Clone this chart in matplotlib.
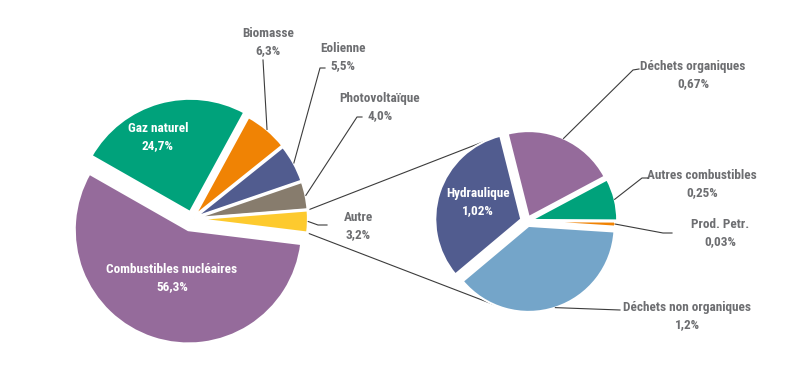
import matplotlib
matplotlib.use("Agg")
import matplotlib.pyplot as plt
from matplotlib import font_manager
import numpy as np

# ---------------- data ----------------
main_labels = ["Combustibles nucléaires", "Gaz naturel", "Biomasse", "Eolienne",
               "Photovoltaïque", "Autre"]
main_values = [56.3, 24.7, 6.3, 5.5, 4.0, 3.2]
main_colors = ["#956b9b", "#00a27b", "#f08304", "#515c8f", "#877c6d", "#fdca2e"]

sub_labels = ["Hydraulique", "Déchets organiques", "Autres combustibles",
              "Prod. Petr.", "Déchets non organiques"]
sub_values = [1.02, 0.67, 0.25, 0.03, 1.2]
sub_colors = ["#515c8f", "#956b9b", "#00a27b", "#f08304", "#74a5c9"]

# ---------------- font ----------------
available = {f.name for f in font_manager.fontManager.ttflist}
candidates = ["Roboto Condensed", "Liberation Sans Narrow", "DejaVu Sans Condensed",
              "Open Sans Condensed", "Roboto", "DejaVu Sans"]
FONT = next(c for c in candidates if c in available)
plt.rcParams["font.family"] = [FONT, "DejaVu Sans"]

W, H = 800, 373
fig = plt.figure(figsize=(W / 100, H / 100), dpi=100)
ax = fig.add_axes([0, 0, 1, 1])


def Y(py):
    return H - py


def fmt(v):
    return str(v).replace(".", ",") + "%"


# ---------------- main pie ----------------
R1 = 114
main_explode = [0.10, 0.06, 0.025, 0.02, 0.02, 0.02]
wm, _ = ax.pie(main_values, colors=main_colors, startangle=-7, counterclock=False,
               center=(192, Y(219)), radius=R1, explode=[e * R1 for e in main_explode],
               wedgeprops=dict(edgecolor="white", linewidth=2), frame=True)

# ---------------- sub pie ----------------
R2 = 86
sub_explode = [0.07, 0.05, 0.05, 0.03, 0.06]
ws, _ = ax.pie(sub_values, colors=sub_colors, startangle=220, counterclock=False,
               center=(527, Y(221)), radius=R2, explode=[e * R2 for e in sub_explode],
               wedgeprops=dict(edgecolor="white", linewidth=1.5), frame=True)

ax.set_xlim(0, W)
ax.set_ylim(0, H)
ax.set_aspect("equal")
ax.axis("off")


def arc_point(w, ang=None, f=1.0):
    if ang is None:
        ang = (w.theta1 + w.theta2) / 2
    cx, cy = w.center
    a = np.deg2rad(ang)
    return cx + f * w.r * np.cos(a), cy + f * w.r * np.sin(a)


LC = "#3c3c3c"
TC = "#6d6e71"
FS = 9.5
LS = 1.4

# connectors between the "Autre" slice and the detail pie
autre = wm[5]
p_top = arc_point(autre, autre.theta2)
p_bot = arc_point(autre, autre.theta1)
q_top = arc_point(ws[0], 115)
q_bot = arc_point(ws[4], 246)
ax.plot([p_top[0], q_top[0]], [p_top[1], q_top[1]], color=LC, lw=0.8, zorder=0)
ax.plot([p_bot[0], q_bot[0]], [p_bot[1], q_bot[1]], color=LC, lw=0.8, zorder=0)

# inside labels
ins = dict(color="white", fontsize=FS, fontweight="bold", ha="center", va="center",
           linespacing=LS)
ax.text(158, Y(137), f"{main_labels[1]}\n{fmt(main_values[1])}", **ins)
ax.text(172, Y(278), f"{main_labels[0]}\n{fmt(main_values[0])}", **ins)
ax.text(478, Y(202), f"{sub_labels[0]}\n{fmt(sub_values[0])}", **ins)

# outside labels with leader lines: (wedge, text centre px, line path px)
outs = dict(color=TC, fontsize=FS, fontweight="bold", ha="center", va="center",
            linespacing=LS)
callouts = [
    (wm[2], main_labels[2], main_values[2], (268, 42), [(263, 60)]),
    (wm[3], main_labels[3], main_values[3], (343, 57), [(325, 68), (320, 68)]),
    (wm[4], main_labels[4], main_values[4], (380, 107), [(362, 117), (357, 117)]),
    (wm[5], main_labels[5], main_values[5], (358, 226), [(327, 225), (318, 225)]),
    (ws[1], sub_labels[1], sub_values[1], (693, 75), [(639, 69), (633, 70)]),
    (ws[2], sub_labels[2], sub_values[2], (702, 184), [(648, 178), (642, 178)]),
    (ws[3], sub_labels[3], sub_values[3], (720, 233), [(672, 233), (663, 233)]),
    (ws[4], sub_labels[4], sub_values[4], (687, 316), [(620, 310)]),
]
for w, lab, val, (tx, ty), path in callouts:
    ax.text(tx, Y(ty), f"{lab}\n{fmt(val)}", **outs)
    end = arc_point(w)
    xs = [p[0] for p in path] + [end[0]]
    ys = [Y(p[1]) for p in path] + [end[1]]
    ax.plot(xs, ys, color=LC, lw=0.8, zorder=3)

fig.savefig("out.png", dpi=100, facecolor="white")
